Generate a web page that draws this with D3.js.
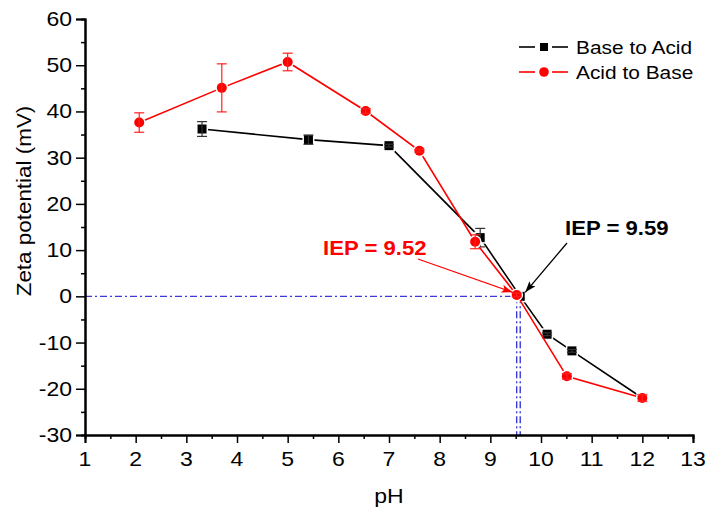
<!DOCTYPE html>
<html><head><meta charset="utf-8">
<script src="https://cdn.jsdelivr.net/npm/d3@7"></script>
<style>body{margin:0;background:#fff}svg{display:block}text{font-family:"Liberation Sans",Arial,sans-serif}</style>
</head><body>
<script>
// ---- data ----
const phBA   = [3.31, 5.41, 7.0, 8.8, 9.59, 10.12, 10.61, 12.0];
const zetaBA = [36.2, 33.9, 32.6, 12.7, 0, -8.2, -11.8, -22.0];
const errBA  = [1.6, 1.0, 0.3, 2.0, 0, 0.3, 0.3, 0.6];
const phAB   = [2.07, 3.70, 5.0, 6.54, 7.60, 8.70, 9.52, 10.51, 12.0];
const zetaAB = [37.6, 45.1, 50.7, 40.1, 31.5, 11.8, 0.3, -17.3, -22.0];
const errAB  = [2.1, 5.2, 1.9, 0.5, 0.3, 1.5, 0.4, 0.6, 0.7];
const xTicks = [1,2,3,4,5,6,7,8,9,10,11,12,13];
const yTicks = [-30,-20,-10,0,10,20,30,40,50,60];
const iepBA = 9.59, iepAB = 9.52;
const seriesNames = ["Base to Acid", "Acid to Base"];

const W = 714, H = 514;
const svg = d3.select("body").append("svg").attr("width", W).attr("height", H);
const x = d3.scaleLinear().domain([1, 13]).range([85, 693]);
const y = d3.scaleLinear().domain([-30, 60]).range([435, 19]);
const SX = 1.15;

function stext(g, px, py, str, opts) {
  const t = g.append("text")
    .attr("transform", `translate(${px},${py}) ${opts.rot ? "rotate(" + opts.rot + ")" : ""} scale(${opts.sx || SX},1)`)
    .attr("text-anchor", opts.anchor || "start")
    .attr("font-size", opts.size || 20)
    .attr("font-weight", opts.bold ? "bold" : "normal")
    .attr("fill", opts.fill || "#000")
    .text(str);
  return t;
}

// blue dash-dot reference lines
const blue = "#3a3ad8";
const ref = svg.append("g").attr("stroke", blue).attr("stroke-width", 1.4)
  .attr("stroke-dasharray", "7,3,2,3").attr("fill", "none");
ref.append("line").attr("x1", x(1)).attr("x2", x(iepBA)).attr("y1", y(0)).attr("y2", y(0));
ref.append("line").attr("x1", x(iepAB)).attr("x2", x(iepAB)).attr("y1", y(0)).attr("y2", y(-30));
ref.append("line").attr("x1", x(iepBA)).attr("x2", x(iepBA)).attr("y1", y(0)).attr("y2", y(-30));

// axes
const xAxis = d3.axisBottom(x).tickValues(xTicks).tickSize(8).tickFormat("");
const xMinor = d3.axisBottom(x).tickValues(d3.range(1.5, 13, 1)).tickSize(4).tickFormat("");
const yAxis = d3.axisLeft(y).tickValues(yTicks).tickSize(9).tickFormat("");
const yMinor = d3.axisLeft(y).tickValues(d3.range(-25, 60, 10)).tickSize(4).tickFormat("");
function styleAxis(g) {
  g.select(".domain").attr("stroke", "#000").attr("stroke-width", 2);
  g.selectAll(".tick line").attr("stroke", "#000").attr("stroke-width", 1.5);
}
svg.append("g").attr("transform", `translate(0,${y(-30)})`).call(xMinor).call(styleAxis);
svg.append("g").attr("transform", `translate(0,${y(-30)})`).call(xAxis).call(styleAxis);
svg.append("g").attr("transform", `translate(${x(1)},0)`).call(yMinor).call(styleAxis);
svg.append("g").attr("transform", `translate(${x(1)},0)`).call(yAxis).call(styleAxis);

const labels = svg.append("g");
xTicks.forEach(v => stext(labels, x(v), 466, String(v), {anchor: "middle"}));
yTicks.forEach(v => stext(labels, 72, y(v) + 7, String(v), {anchor: "end"}));
stext(labels, 389, 503, "pH", {anchor: "middle"});
stext(labels, 31, 201, "Zeta potential (mV)", {anchor: "middle", rot: -90, size: 19.5});

// series
function drawSeries(ph, z, err, color, errColor, shape) {
  const g = svg.append("g");
  const pts = ph.map((p, i) => ({p, z: z[i], e: err[i]}));
  g.append("path").datum(pts)
    .attr("d", d3.line().x(d => x(d.p)).y(d => y(d.z)))
    .attr("fill", "none").attr("stroke", color).attr("stroke-width", 1.6);
  const m = g.append("g");
  pts.forEach(d => {
    const cx = x(d.p), cy = y(d.z);
    if (shape === "square") {
      m.append("rect").attr("x", cx - 4.5).attr("y", cy - 4.5).attr("width", 9).attr("height", 9)
        .attr("fill", color).attr("stroke", "#fff").attr("stroke-width", 3).attr("paint-order", "stroke");
    } else {
      m.append("circle").attr("cx", cx).attr("cy", cy).attr("r", 5)
        .attr("fill", color).attr("stroke", "#fff").attr("stroke-width", 3).attr("paint-order", "stroke");
    }
  });
  const eb = g.append("g").attr("stroke", errColor).attr("stroke-width", 1.2);
  pts.filter(d => d.e > 0).forEach(d => {
    const cx = x(d.p), y1 = y(d.z + d.e), y2 = y(d.z - d.e);
    eb.append("line").attr("x1", cx).attr("x2", cx).attr("y1", y1).attr("y2", y2);
    eb.append("line").attr("x1", cx - 5).attr("x2", cx + 5).attr("y1", y1).attr("y2", y1);
    eb.append("line").attr("x1", cx - 5).attr("x2", cx + 5).attr("y1", y2).attr("y2", y2);
  });
}
drawSeries(phBA, zetaBA, errBA, "#000", "#333", "square");
drawSeries(phAB, zetaAB, errAB, "#ff0000", "#ff2020", "circle");

// annotations
const defs = svg.append("defs");
function marker(id, color) {
  defs.append("marker").attr("id", id).attr("viewBox", "0 0 14 10").attr("refX", 14).attr("refY", 5)
    .attr("markerWidth", 14).attr("markerHeight", 8).attr("markerUnits", "userSpaceOnUse").attr("orient", "auto")
    .append("path").attr("d", "M0,0 L14,5 L0,10 L3,5 Z").attr("fill", color);
}
marker("arrR", "#ff0000");
marker("arrK", "#000");
svg.append("line").attr("x1", 418).attr("y1", 259).attr("x2", x(iepAB) - 4).attr("y2", y(0) - 4)
  .attr("stroke", "#ff0000").attr("stroke-width", 1.3).attr("marker-end", "url(#arrR)");
svg.append("line").attr("x1", 567).attr("y1", 243).attr("x2", x(iepBA) + 5).attr("y2", y(0) - 4)
  .attr("stroke", "#000").attr("stroke-width", 1.3).attr("marker-end", "url(#arrK)");
stext(svg, 323, 255, "IEP = " + iepAB, {bold: true, size: 20.5, sx: 1.08, fill: "#ff0000"});
stext(svg, 565, 235, "IEP = " + iepBA, {bold: true, size: 20.5, sx: 1.08});

// legend
const leg = svg.append("g");
const legRows = [{name: seriesNames[0], color: "#000", shape: "square", y: 47},
                 {name: seriesNames[1], color: "#ff0000", shape: "circle", y: 72}];
legRows.forEach(r => {
  leg.append("line").attr("x1", 519).attr("x2", 535).attr("y1", r.y).attr("y2", r.y).attr("stroke", r.color).attr("stroke-width", 1.6);
  leg.append("line").attr("x1", 552).attr("x2", 568).attr("y1", r.y).attr("y2", r.y).attr("stroke", r.color).attr("stroke-width", 1.6);
  if (r.shape === "square") leg.append("rect").attr("x", 540).attr("y", r.y - 4).attr("width", 8).attr("height", 8).attr("fill", r.color);
  else leg.append("circle").attr("cx", 544).attr("cy", r.y).attr("r", 4.8).attr("fill", r.color);
  stext(leg, 576, r.y + 7, r.name, {size: 18.5, sx: 1.13});
});
</script>
</body></html>
